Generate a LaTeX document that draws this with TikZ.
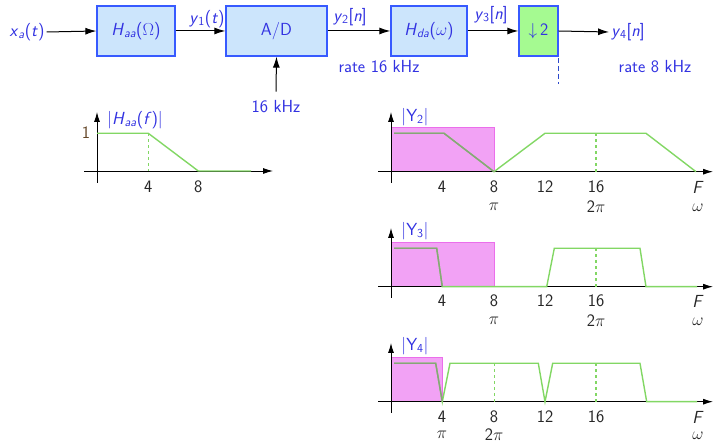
\documentclass[tikz,border=0pt]{standalone}
\usepackage{fontspec}
\renewcommand{\familydefault}{\sfdefault}
\usetikzlibrary{arrows.meta}
\definecolor{txtblue}{RGB}{50,50,225}
\definecolor{boxfill}{RGB}{204,229,252}
\definecolor{boxblue}{RGB}{55,90,255}
\definecolor{decfill}{RGB}{165,250,145}
\definecolor{plotgreen}{RGB}{130,215,100}
\definecolor{dimgreen}{RGB}{135,165,120}
\definecolor{magfill}{RGB}{242,162,245}
\definecolor{magdraw}{RGB}{235,110,235}
\definecolor{onebrown}{RGB}{100,70,40}
\newcommand{\sv}[1]{\textsl{#1}}
\newcommand{\sbs}[1]{\textsubscript{#1}}
\begin{document}
\begin{tikzpicture}[x=1pt,y=-1pt,
  every node/.style={font=\fontsize{17.5}{20}\selectfont, inner sep=2pt},
  blk/.style={draw=boxblue, line width=1.3pt, fill=boxfill, minimum height=50pt, inner sep=0pt, text=txtblue},
  sig/.style={text=txtblue},
  arr/.style={-{Latex[length=11pt,width=7pt]}, line width=1pt},
  ax/.style={-{Latex[length=10pt,width=6pt]}, line width=0.9pt},
  gl/.style={draw=plotgreen, line width=1.4pt},
  gd/.style={draw=plotgreen, line width=1.2pt, dashed},
  mag/.style={fill=magfill, draw=magdraw, line width=0.6pt},
  tick/.style={text=black!85, inner sep=0.3pt}]
\useasboundingbox (0,0) rectangle (716,443);

% ---------- block diagram ----------
\node[sig] (xa) at (27,32) {\sv{x}\sbs{\sv{a}}(\sv{t})};
\node[blk, minimum width=78pt] (haa) at (136,31) {\sv{H}\sbs{\sv{aa}}($\Omega$)};
\node[blk, minimum width=101pt] (ad) at (276.5,31) {A/D};
\node[blk, minimum width=76pt] (hda) at (429,31) {\sv{H}\sbs{\sv{da}}($\omega$)};
\node[blk, fill=decfill, minimum width=39pt] (dec) at (538.5,31) {$\downarrow$\,2};
\node[sig] (y4) at (628,32) {\sv{y}\sbs{4}[\sv{n}]};
\node[sig] (y1) at (207,19) {\sv{y}\sbs{1}(\sv{t})};
\node[sig] (y2) at (350,17) {\sv{y}\sbs{2}[\sv{n}]};
\node[sig] (y3) at (491,15) {\sv{y}\sbs{3}[\sv{n}]};
\node[sig] (r16) at (379,67) {rate 16 kHz};
\node[sig] (r8) at (655,67) {rate 8 kHz};
\node[sig] (clk) at (276,107) {16 kHz};
\coordinate (dA) at (558,58);
\coordinate (dB) at (558,84);

\draw[arr] (xa.east) -- (haa.west);
\draw[arr] (haa.east) -- (ad.west);
\draw[arr] (ad.east) -- (hda.west);
\draw[arr] (hda.east) -- (dec.west);
\draw[arr] (dec.east) -- (y4.west);
\draw[arr] ([yshift=7pt]clk.north) -- (ad.south);
\draw[boxblue!80!black, line width=1pt, dash pattern=on 5pt off 3pt] (dA) -- (dB);

% ---------- |Haa(f)| ----------
\draw[ax] (97,183) -- (97,112);
\draw[ax] (84,171) -- (273,171);
\draw[gl] (97,133.3) -- (148.3,133.3) -- (198.3,171) -- (251,171);
\draw[gd] (148.3,133.3) -- (148.3,171);
\node[sig] (lhaa) at (135,120) {|\sv{H}\sbs{\sv{aa}}(\sv{f})|};
\node[text=onebrown] (one) at (86,133) {1};
\node[tick] (h4) at (148.3,187) {4};
\node[tick] (h8) at (198.3,187) {8};

% ---------- |Y2| ----------
\fill[mag] (391,127.3) rectangle (494,171.7);
\draw[ax] (391,183) -- (391,112);
\draw[ax] (378,171.7) -- (713,171.7);
\draw[gl] (394,133.3) -- (444,133.3) -- (494,171.7) -- (545,133.3) -- (646,133.3) -- (696,171.7);
\begin{scope}
\clip (391,127.3) rectangle (494,171.7);
\draw[draw=dimgreen, line width=1.4pt] (394,133.3) -- (444,133.3) -- (494,171.7);
\end{scope}
\draw[gd] (596,133.3) -- (596,171.7);
\node[sig] (ly2) at (415,117) {|Y\sbs{2}|};
\node[tick] (a4) at (442,187) {4};
\node[tick] (a8) at (494,187) {8};
\node[tick] (a12) at (545,187) {12};
\node[tick] (a16) at (596,187) {16};
\node[tick] (aF) at (698,187) {\sv{F}};
\node[tick] (api) at (494,207) {$\pi$};
\node[tick] (a2pi) at (596,207) {2$\pi$};
\node[tick] (aw) at (698,208) {$\omega$};

% ---------- |Y3| ----------
\fill[mag] (391,242.7) rectangle (494,286.7);
\draw[ax] (391,298) -- (391,228);
\draw[ax] (378,286.7) -- (713,286.7);
\draw[gl] (394,248.3) -- (436.7,248.3) -- (442.3,286.7) -- (546.7,286.7) -- (554.3,248.3) -- (640,248.3) -- (646,286.7) -- (697,286.7);
\begin{scope}
\clip (391,242.7) rectangle (494,286.7);
\draw[draw=dimgreen, line width=1.4pt] (394,248.3) -- (436.7,248.3) -- (442.3,286.7);
\end{scope}
\draw[gd] (596,248.3) -- (596,286.7);
\node[sig] (ly3) at (415,231) {|Y\sbs{3}|};
\node[tick] (b4) at (442,301) {4};
\node[tick] (b8) at (494,301) {8};
\node[tick] (b12) at (545,301) {12};
\node[tick] (b16) at (596,301) {16};
\node[tick] (bF) at (698,301) {\sv{F}};
\node[tick] (bpi) at (494,321) {$\pi$};
\node[tick] (b2pi) at (596,321) {2$\pi$};
\node[tick] (bw) at (698,322) {$\omega$};

% ---------- |Y4| ----------
\fill[mag] (391,357.3) rectangle (442.7,401.7);
\draw[ax] (391,413) -- (391,343);
\draw[ax] (378,401.7) -- (713,401.7);
\draw[gl] (394,363.3) -- (435.7,363.3) -- (442.3,401.7) -- (450,363.3) -- (538.3,363.3) -- (545,401.7) -- (552.7,363.3) -- (640,363.3) -- (646.7,401.7) -- (697,401.7);
\begin{scope}
\clip (391,357.3) rectangle (442.7,401.7);
\draw[draw=dimgreen, line width=1.4pt] (394,363.3) -- (435.7,363.3) -- (442.3,401.7);
\end{scope}
\draw[gd] (494.3,363.3) -- (494.3,401.7);
\draw[gd] (596,363.3) -- (596,401.7);
\node[sig] (ly4) at (415,346) {|Y\sbs{4}|};
\node[tick] (c4) at (442,417) {4};
\node[tick] (c8) at (494,417) {8};
\node[tick] (c12) at (545,417) {12};
\node[tick] (c16) at (596,417) {16};
\node[tick] (cF) at (698,417) {\sv{F}};
\node[tick] (cpi) at (442,435) {$\pi$};
\node[tick] (c2pi) at (494,435) {2$\pi$};
\node[tick] (cw) at (698,435.5) {$\omega$};
\end{tikzpicture}
\end{document}
